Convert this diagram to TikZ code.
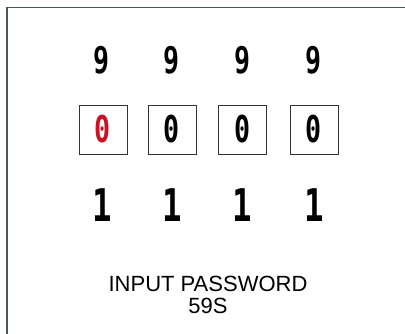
\documentclass[tikz,border=0pt]{standalone}
\usepackage{fontspec}
\setmainfont{Liberation Sans}
\newfontfamily\digitfont[FakeStretch=0.72]{DejaVu Sans Mono}
\usetikzlibrary{positioning}

\definecolor{framegray}{HTML}{4A5858}
\definecolor{selred}{HTML}{CC1122}

\begin{document}
\begin{tikzpicture}[
    x=1pt, y=-1pt,
    frame/.style={draw=framegray,line width=1.6pt},
    digit/.style={inner sep=0pt,font=\digitfont\bfseries\fontsize{37}{37}\selectfont},
    onedigit/.style={inner sep=0pt,font=\digitfont\bfseries\fontsize{45}{45}\selectfont},
    digitbox/.style={digit,draw=black!80,line width=0.8pt,minimum width=48pt,minimum height=49pt},
    sel/.style={text=selred},
    caption/.style={anchor=base,inner sep=0pt,font=\fontsize{22}{22}\selectfont}
]

\useasboundingbox (0,0) rectangle (405,334);
\draw[frame] (6.8,340) |- (410,7.6);

% digit columns
\foreach \i/\x in {1/102,2/172,3/242.5,4/314}{
    \node[digit] (nine\i) at (\x,60.5) {9};
    \node[onedigit] (one\i) at (\x,205) {1};
}
\node[digitbox,sel] (zero1) at (103,129.5) {0};
\node[digitbox] (zero2) at (172,129.5) {0};
\node[digitbox] (zero3) at (242.5,129.5) {0};
\node[digitbox] (zero4) at (314,129.5) {0};

% caption
\node[caption] (prompt) at (208,292) {INPUT PASSWORD};
\node[caption] (timer) at (208,314) {59S};

\end{tikzpicture}
\end{document}
